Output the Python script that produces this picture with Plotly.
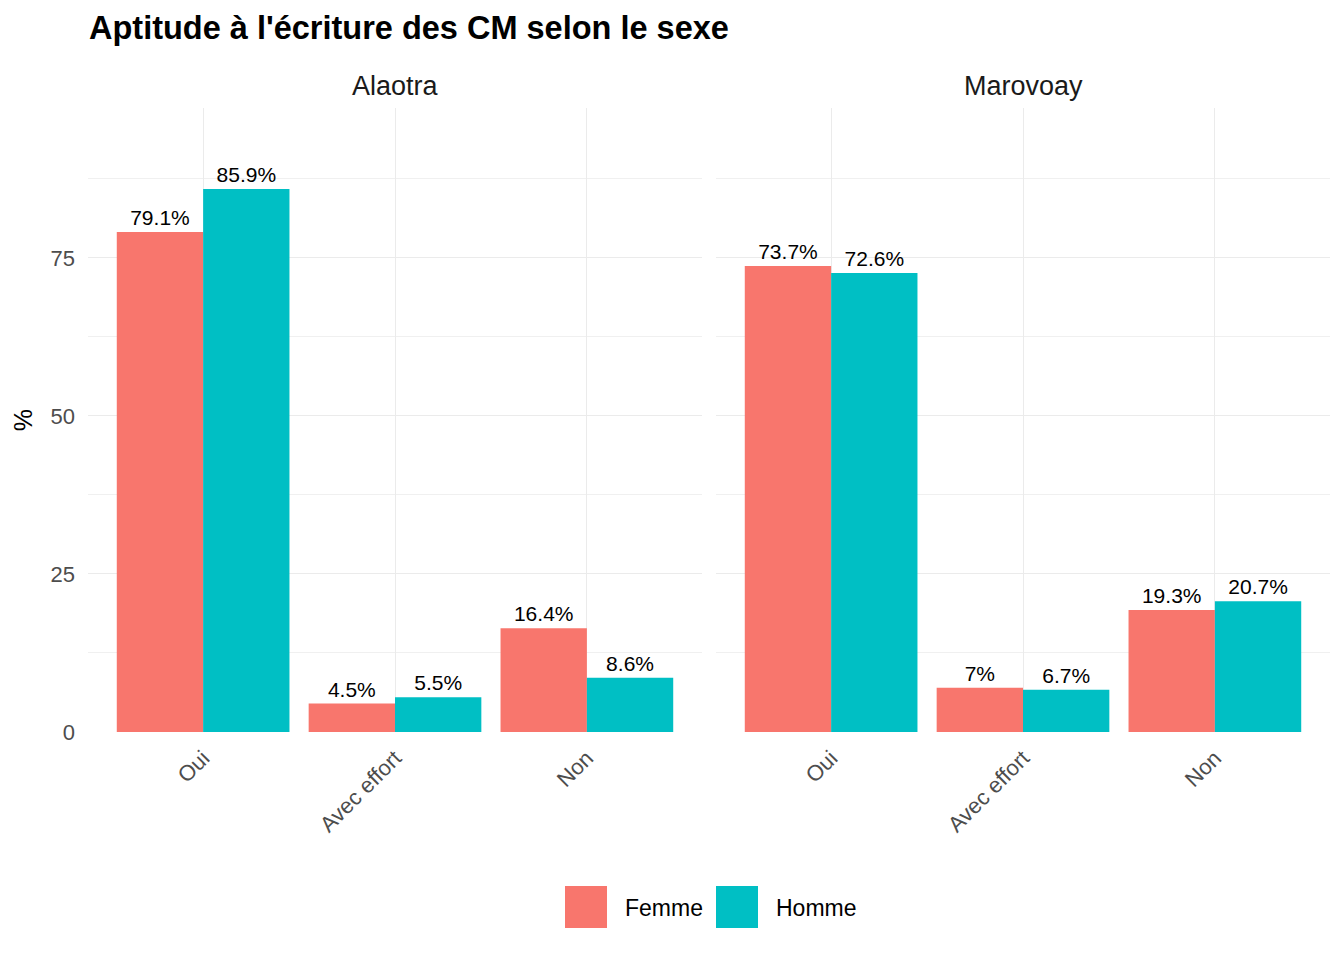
import plotly.graph_objects as go

categories = ["Oui", "Avec effort", "Non"]
regions = ["Alaotra", "Marovoay"]
femme = {"Alaotra": [79.1, 4.5, 16.4], "Marovoay": [73.7, 7.0, 19.3]}
homme = {"Alaotra": [85.9, 5.5, 8.6], "Marovoay": [72.6, 6.7, 20.7]}
y_ticks = [0, 25, 50, 75]
minor_ticks = [12.5, 37.5, 62.5, 87.5]

C_F = "#F8766D"
C_H = "#00BFC4"
FONT = "Liberation Sans, Arial, sans-serif"

def fmt(v):
    s = f"{v:.1f}".rstrip("0").rstrip(".")
    return s + "%"

fig = go.Figure()
for i, reg in enumerate(regions):
    xa = "x" if i == 0 else "x2"
    for name, data, col in [("Femme", femme, C_F), ("Homme", homme, C_H)]:
        fig.add_trace(go.Bar(
            x=categories, y=data[reg], name=name, marker_color=col,
            marker_line_width=0, xaxis=xa, yaxis="y" if i == 0 else "y2",
            text=[fmt(v) for v in data[reg]], textposition="outside",
            textfont=dict(size=21, color="black", family=FONT),
            cliponaxis=False, showlegend=False, offsetgroup=name,
        ))

# page is drawn with an 8px offset; reference pixel coords are used below
OFF = 8
W, H = 1344 - 2 * OFF, 960 - 2 * OFF
P_L, P_R, P_T, P_B = 88, 1330, 108, 732  # plot area in reference px
ML = P_L - OFF
MT = P_T - OFF
MR = W - (P_R - OFF)
MB = H - (P_B - OFF)
pw = P_R - P_L
ph = P_B - P_T

def fx(px):
    return (px - P_L) / pw

def fy(py):
    return 1 - (py - P_T) / ph

d1 = [0, fx(702)]
d2 = [fx(716), 1]
yr = [0, 98.7]

common_x = dict(type="category", range=[-0.6, 2.6], tickangle=-45,
                tickfont=dict(size=22, color="#4d4d4d", family=FONT),
                showgrid=True, gridcolor="#ebebeb", gridwidth=1.3,
                zeroline=False, ticks="", showline=False, ticklabelstandoff=8)
common_y = dict(range=yr, tickvals=y_ticks, showgrid=True, gridcolor="#ebebeb",
                gridwidth=1.3, zeroline=False, ticks="",
                minor=dict(tickvals=minor_ticks, showgrid=True, gridcolor="#f0f0f0", gridwidth=0.9))

fig.update_layout(
    width=W, height=H,
    margin=dict(l=ML, r=MR, t=MT, b=MB),
    plot_bgcolor="white", paper_bgcolor="white",
    barmode="group", bargap=0.1, bargroupgap=0,
    font=dict(family=FONT),
    xaxis=dict(domain=d1, anchor="y", **common_x),
    xaxis2=dict(domain=d2, anchor="y2", **common_x),
    yaxis=dict(domain=[0, 1], anchor="x", tickfont=dict(size=22, color="#4d4d4d", family=FONT),
               ticklabelstandoff=12,
               title=dict(text="%", font=dict(size=25, color="black", family=FONT), standoff=10),
               **common_y),
    yaxis2=dict(domain=[0, 1], anchor="x2", showticklabels=False, **common_y),
    title=dict(text="<b>Aptitude à l'écriture des CM selon le sexe</b>",
               xref="paper", x=fx(89), xanchor="left",
               yref="container", y=1 - (28 - OFF) / H, yanchor="middle",
               font=dict(size=32.5, color="black", family=FONT)),
)

# facet strip labels
for reg, dom in zip(regions, [d1, d2]):
    fig.add_annotation(text=reg, xref="paper", yref="paper",
                       x=(dom[0] + dom[1]) / 2, y=fy(86),
                       xanchor="center", yanchor="middle", showarrow=False,
                       font=dict(size=27, color="#1a1a1a", family=FONT))

# legend drawn manually
for lbl, col, x0 in [("Femme", C_F, 565), ("Homme", C_H, 716)]:
    fig.add_shape(type="rect", xref="paper", yref="paper",
                  x0=fx(x0), x1=fx(x0 + 42), y0=fy(928), y1=fy(886),
                  fillcolor=col, line_width=0)
    fig.add_annotation(text=lbl, xref="paper", yref="paper",
                       x=fx(x0 + 58), y=fy(908), xanchor="left", yanchor="middle",
                       showarrow=False, font=dict(size=23, color="black", family=FONT))

fig.write_html("out.html")
